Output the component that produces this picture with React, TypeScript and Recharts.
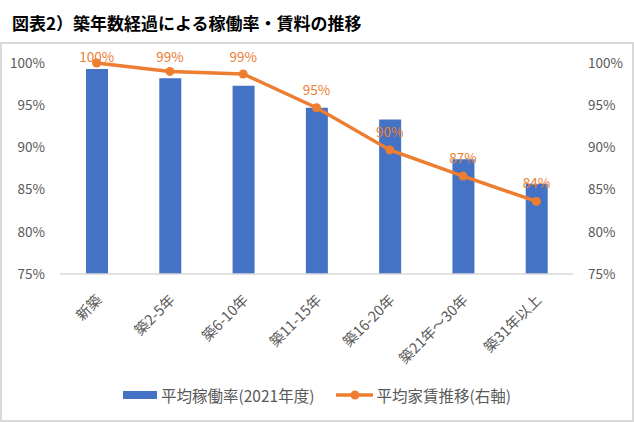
import React from 'react';
import { ComposedChart, Bar, Line, XAxis, YAxis, Legend, LabelList } from 'recharts';

const categories = ['新築', '築2-5年', '築6-10年', '築11-15年', '築16-20年', '築21年～30年', '築31年以上'];
const occupancy = [99.3, 98.2, 97.3, 94.7, 93.3, 88.6, 85.7];
const rent = [100.0, 99.0, 98.7, 94.7, 89.7, 86.6, 83.6];
const yTicks = [75, 80, 85, 90, 95, 100];

const seriesNames = { bar: '平均稼働率(2021年度)', line: '平均家賃推移(右軸)' };

const data = categories.map((c, i) => ({ name: c, occ: occupancy[i], rent: rent[i] }));

const FONT = '"Noto Sans CJK JP", "Noto Sans", sans-serif';
const BLUE = '#4472C4';
const ORANGE = '#ED7D31';
const GRAY = '#595959';

const XTick = (props: any) => {
  const { x, y, payload } = props;
  return (
    <g transform={`translate(${x + 6},${y + 19})`}>
      <text textAnchor="end" transform="rotate(-45)" fill={GRAY} fontSize={14.5} fontFamily={FONT}>
        {payload.value}
      </text>
    </g>
  );
};

const RentLabel = (props: any) => {
  const { x, y, value } = props;
  const ly = Math.max(y - 19, 14);
  return (
    <text x={x} y={ly} textAnchor="middle" dominantBaseline="central" fill={ORANGE} fontSize={13.5} fontFamily={FONT}>
      {`${Math.round(value)}%`}
    </text>
  );
};

const LegendContent = () => (
  <div style={{ height: 40, display: 'flex', justifyContent: 'flex-start', alignItems: 'flex-start', fontFamily: FONT, fontSize: 15.5, color: GRAY, paddingTop: 5, boxSizing: 'border-box' }}>
    <div style={{ marginLeft: 123, marginTop: 4, width: 34, height: 8, background: BLUE }} />
    <span style={{ marginLeft: 4, lineHeight: '16px' }}>{seriesNames.bar}</span>
    <svg width={37} height={12} style={{ marginLeft: 22, marginTop: 2 }}>
      <line x1={0} y1={6} x2={37} y2={6} stroke={ORANGE} strokeWidth={3.5} />
      <circle cx={19} cy={6} r={4.5} fill={ORANGE} />
    </svg>
    <span style={{ marginLeft: 3, lineHeight: '16px' }}>{seriesNames.line}</span>
  </div>
);

export default function App() {
  return (
    <div style={{ position: 'absolute', left: 0, top: 0, width: 634, height: 422, background: '#fff' }}>
      <div style={{ position: 'absolute', left: 12, top: 12.5, fontFamily: FONT, fontWeight: 700, fontSize: 17, lineHeight: '20px', color: '#000', whiteSpace: 'nowrap' }}>
        図表2）築年数経過による稼働率・賃料の推移
      </div>
      <div style={{ position: 'absolute', left: 0, top: 42, width: 634, height: 380 }}>
        <ComposedChart width={634} height={380} data={data} margin={{ top: 21, right: 0, bottom: 0, left: 0 }}>
          <XAxis dataKey="name" height={108} tickLine={false} axisLine={{ stroke: '#D9D9D9', strokeWidth: 1.5 }} tick={<XTick />} interval={0} />
          <YAxis yAxisId="left" orientation="left" width={60} domain={[75, 100]} ticks={yTicks} tickFormatter={(v: number) => `${v}%`} axisLine={false} tickLine={false} tickMargin={9} tick={{ fill: GRAY, fontSize: 13.5, fontFamily: FONT }} />
          <YAxis yAxisId="right" orientation="right" width={61} domain={[75, 100]} ticks={yTicks} tickFormatter={(v: number) => `${v}%`} axisLine={false} tickLine={false} tickMargin={9} tick={{ fill: GRAY, fontSize: 13.5, fontFamily: FONT }} />
          <Bar yAxisId="left" dataKey="occ" fill={BLUE} barSize={22} isAnimationActive={false} />
          <Line yAxisId="right" dataKey="rent" stroke={ORANGE} strokeWidth={3.5} dot={{ r: 4.5, fill: ORANGE, stroke: ORANGE, strokeWidth: 0 }} isAnimationActive={false}>
            <LabelList dataKey="rent" content={<RentLabel />} />
          </Line>
          <Legend verticalAlign="bottom" height={40} content={<LegendContent />} />
        </ComposedChart>
      </div>
      <div style={{ position: 'absolute', left: 0, top: 42, width: 634, height: 380, border: '2px solid #D9D9D9', boxSizing: 'border-box', pointerEvents: 'none' }} />
    </div>
  );
}
